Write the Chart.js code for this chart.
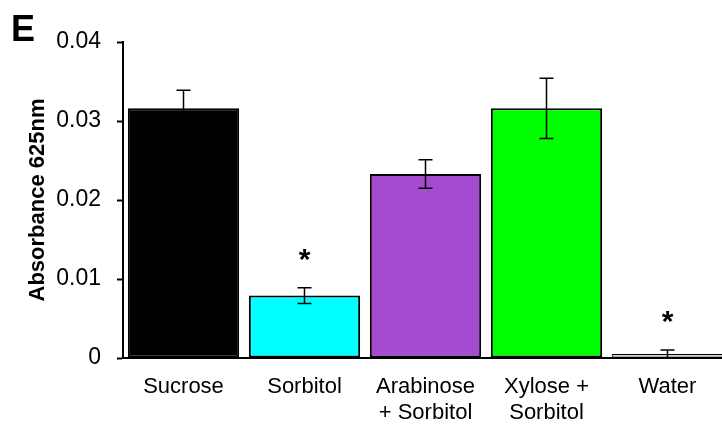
<!DOCTYPE html>
<html>
<head>
<meta charset="utf-8">
<script src="https://cdn.jsdelivr.net/npm/chart.js@4.4.1/dist/chart.umd.min.js"></script>
<style>
  html, body { margin: 0; padding: 0; overflow: hidden; background: #fff; }
  #wrap { position: relative; width: 728px; height: 431px; }
  #panel { position: absolute; left: 11px; top: 8px; font: bold 36px "Liberation Sans", Arial, sans-serif; color: #000; }
</style>
</head>
<body>
<div id="wrap">
  <canvas id="c" width="728" height="431"></canvas>
  <div id="panel">E</div>
</div>
<script>
// Sugar treatments and mean absorbance at 625 nm
const categories = [['Sucrose'], ['Sorbitol'], ['Arabinose', '+ Sorbitol'], ['Xylose +', 'Sorbitol'], ['Water']];
const absorbance = [0.0316, 0.0079, 0.0233, 0.0316, 0.0005];
const stdError = [0.0023, 0.0010, 0.0018, 0.0038, 0.0005];
const significant = [false, true, false, false, true];
const barColors = ['#000000', '#00ffff', '#a54bcf', '#00ff00', '#d4d4d4'];
const yTicks = [0, 0.01, 0.02, 0.03, 0.04];

const FONT = '"Liberation Sans", Arial, sans-serif';

// Error bars and significance stars, positioned through the chart scales
const errorBarPlugin = {
  id: 'errorBars',
  afterDatasetsDraw(chart) {
    const ctx = chart.ctx;
    const meta = chart.getDatasetMeta(0);
    const y = chart.scales.y;
    ctx.save();
    meta.data.forEach((bar, i) => {
      const v = absorbance[i], e = stdError[i];
      const x = bar.x;
      const top = y.getPixelForValue(v + e);
      const bot = y.getPixelForValue(v - e);
      ctx.strokeStyle = '#000';
      ctx.lineWidth = 1.5;
      ctx.beginPath();
      ctx.moveTo(x, top); ctx.lineTo(x, bot);
      ctx.moveTo(x - 7, top); ctx.lineTo(x + 7, top);
      ctx.moveTo(x - 7, bot); ctx.lineTo(x + 7, bot);
      ctx.stroke();
      if (significant[i]) {
        ctx.fillStyle = '#000';
        ctx.font = 'bold 30px ' + FONT;
        ctx.textAlign = 'center';
        ctx.textBaseline = 'alphabetic';
        const m = ctx.measureText('*');
        const h = m.actualBoundingBoxAscent - m.actualBoundingBoxDescent;
        const cy = top - 25;
        ctx.fillText('*', x, cy + m.actualBoundingBoxAscent - h / 2);
      }
    });
    ctx.restore();
  }
};

new Chart(document.getElementById('c'), {
  type: 'bar',
  data: {
    labels: categories,
    datasets: [{
      data: absorbance,
      backgroundColor: barColors,
      borderColor: '#000',
      borderWidth: [2, 2, 2, 2, 1],
      borderSkipped: false,
      barPercentage: 0.92,
      categoryPercentage: 1.0
    }]
  },
  options: {
    responsive: false,
    animation: false,
    events: [],
    layout: { padding: { top: 42, left: 0, right: 0, bottom: 0 } },
    plugins: { legend: { display: false }, tooltip: { enabled: false } },
    scales: {
      x: {
        afterFit(scale) { scale.height = 73; },
        grid: { display: false, drawTicks: false },
        border: { display: true, color: '#000', width: 2 },
        ticks: {
          color: '#000',
          font: { family: FONT, size: 22, lineHeight: 1.18 },
          padding: 16,
          maxRotation: 0,
          autoSkip: false
        }
      },
      y: {
        min: 0,
        max: 0.04,
        afterBuildTicks(scale) { scale.ticks = yTicks.map(v => ({ value: v })); },
        afterFit(scale) { scale.width = 123; },
        grid: { drawOnChartArea: false, drawTicks: true, tickLength: 6, tickColor: '#000', tickWidth: 2 },
        border: { display: true, color: '#000', width: 2 },
        ticks: {
          color: '#000',
          font: { family: FONT, size: 23 },
          padding: 16,
          callback: (v) => String(v)
        },
        title: {
          display: true,
          text: 'Absorbance 625nm',
          color: '#000',
          font: { family: FONT, size: 22, weight: 'bold' },
          padding: { top: 25, bottom: 0 }
        }
      }
    }
  },
  plugins: [errorBarPlugin]
});
</script>
</body>
</html>
